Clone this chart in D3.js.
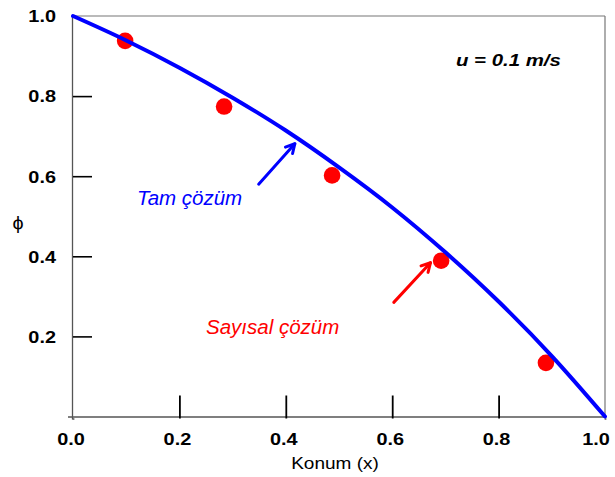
<!DOCTYPE html>
<html>
<head>
<meta charset="utf-8">
<script src="https://cdn.jsdelivr.net/npm/d3@7"></script>
<style>
  html, body { margin: 0; padding: 0; background: #fff; }
  svg { display: block; }
  text { font-family: "Liberation Sans", Arial, sans-serif; }
</style>
</head>
<body>
<svg id="chart" width="615" height="477"></svg>
<script>
// ---- data ----
const exactX = [0, 0.1, 0.2, 0.3, 0.4, 0.5, 0.6, 0.7, 0.8, 0.9, 1.0];
const exactPhi = [1.0, 0.939, 0.871, 0.796, 0.714, 0.622, 0.522, 0.410, 0.287, 0.151, 0.0];
const numX = [0.098, 0.284, 0.487, 0.692, 0.889];
const numPhi = [0.938, 0.774, 0.602, 0.389, 0.134];
const xTicks = [0.0, 0.2, 0.4, 0.6, 0.8, 1.0];
const yTicks = [0.2, 0.4, 0.6, 0.8, 1.0];
const xTitle = "Konum (x)";
const yTitle = "ϕ";
const noteText = "u = 0.1 m/s";
const exactLabel = "Tam çözüm";
const numLabel = "Sayısal çözüm";

// ---- layout ----
const svg = d3.select("#chart");
const x = d3.scaleLinear().domain([0, 1]).range([73, 605]);
const y = d3.scaleLinear().domain([0, 1]).range([416.5, 16]);
const SX = 1.17; // horizontal stretch of axis texts

// frame (top and right)
svg.append("line").attr("x1", x(0)).attr("x2", x(1)).attr("y1", y(1)).attr("y2", y(1))
  .attr("stroke", "#777").attr("stroke-width", 1.2);
svg.append("line").attr("x1", x(1)).attr("x2", x(1)).attr("y1", y(1)).attr("y2", y(0))
  .attr("stroke", "#777").attr("stroke-width", 1.2);

// axes (ticks inward)
const gx = svg.append("g").attr("transform", `translate(0,${y(0)})`)
  .call(d3.axisBottom(x).tickValues(xTicks).tickSizeInner(-21).tickSizeOuter(0).tickFormat(""));
gx.select(".domain").attr("stroke", "#555").attr("stroke-width", 1.3)
  .attr("d", `M${x(0) - 5},0.5H${x(1)}`);
gx.selectAll(".tick line").attr("stroke", "#000").attr("stroke-width", 1.8).attr("y1", 2);
gx.selectAll(".tick").filter(d => d === 0 || d === 1).select("line").attr("y2", 3);

const gy = svg.append("g").attr("transform", `translate(${x(0)},0)`)
  .call(d3.axisLeft(y).tickValues(yTicks).tickSizeInner(-19).tickSizeOuter(0).tickFormat(""));
gy.select(".domain").attr("stroke", "#555").attr("stroke-width", 1.3)
  .attr("d", `M-0.5,${y(1)}V${y(0) + 3}`);
gy.selectAll(".tick line").attr("stroke", "#000").attr("stroke-width", 1.6);
gy.selectAll(".tick").filter(d => d === 1).select("line").remove();

// tick labels
svg.append("g").selectAll("text").data(xTicks).join("text")
  .attr("transform", d => `translate(${Math.min(x(d) - 2, 596)},445) scale(${SX},1)`)
  .attr("text-anchor", "middle").attr("font-size", 17).attr("font-weight", "bold")
  .attr("fill", "#000").text(d => d.toFixed(1));
svg.append("g").selectAll("text").data(yTicks).join("text")
  .attr("transform", d => `translate(56,${y(d) + 6.3}) scale(${SX},1)`)
  .attr("text-anchor", "end").attr("font-size", 17).attr("font-weight", "bold")
  .attr("fill", "#000").text(d => d.toFixed(1));

// axis titles
svg.append("text").attr("transform", `translate(335,469) scale(1.12,1)`)
  .attr("text-anchor", "middle").attr("font-size", 17).attr("fill", "#000").text(xTitle);
svg.append("text").attr("transform", `translate(18,229) scale(1.1,1)`)
  .attr("text-anchor", "middle").attr("font-size", 18).attr("fill", "#000").text(yTitle);

// exact solution curve
const line = d3.line().x((d, i) => x(exactX[i])).y(d => y(d)).curve(d3.curveMonotoneX);

// numerical solution points
svg.append("g").selectAll("circle").data(numPhi).join("circle")
  .attr("cx", (d, i) => x(numX[i])).attr("cy", d => y(d)).attr("r", 8.3)
  .attr("fill", "#ff0000");

// curve on top of points
svg.append("path").attr("d", line(exactPhi)).attr("fill", "none")
  .attr("stroke", "#0000ff").attr("stroke-width", 4).attr("stroke-linecap", "round");

// annotation note
svg.append("text").attr("transform", `translate(456,66) scale(1.2,1)`)
  .attr("font-size", 17).attr("font-weight", "bold").attr("font-style", "italic")
  .attr("fill", "#000").text(noteText);

// arrows
function arrow(x1, y1, x2, y2, color) {
  const g = svg.append("g");
  g.append("line").attr("x1", x1).attr("y1", y1).attr("x2", x2).attr("y2", y2)
    .attr("stroke", color).attr("stroke-width", 3).attr("stroke-linecap", "round");
  const a = Math.atan2(y2 - y1, x2 - x1), L = 10, w = 0.5;
  const p1 = [x2 - L * Math.cos(a - w), y2 - L * Math.sin(a - w)];
  const p2 = [x2 - L * Math.cos(a + w), y2 - L * Math.sin(a + w)];
  g.append("path").attr("d", `M${p1}L${x2},${y2}L${p2}`).attr("fill", "none")
    .attr("stroke", color).attr("stroke-width", 3).attr("stroke-linecap", "round")
    .attr("stroke-linejoin", "round");
}
arrow(x(0.349), y(0.58), x(0.417), y(0.681), "#0000ff");
arrow(x(0.603), y(0.285), x(0.672), y(0.384), "#ff0000");

// labels
svg.append("text").attr("x", 137).attr("y", 205).attr("font-size", 20.5)
  .attr("font-style", "italic").attr("fill", "#0000ff").text(exactLabel);
svg.append("text").attr("x", 206).attr("y", 334).attr("font-size", 20.5)
  .attr("font-style", "italic").attr("fill", "#ff0000").text(numLabel);
</script>
</body>
</html>
